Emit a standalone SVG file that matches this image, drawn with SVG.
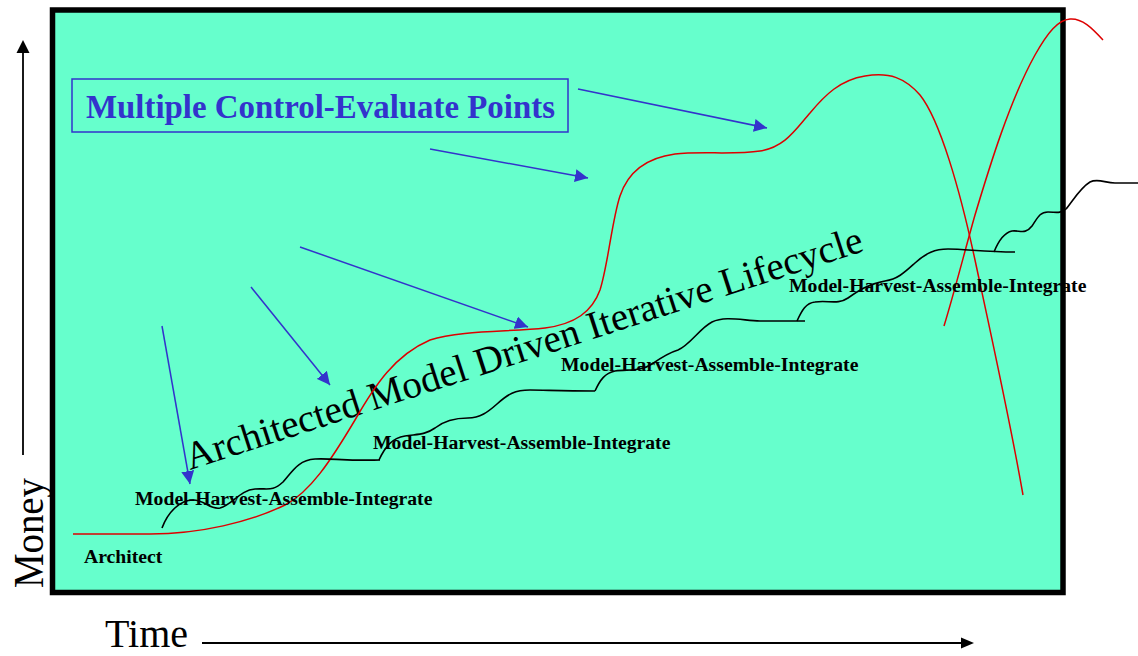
<svg xmlns="http://www.w3.org/2000/svg" width="1138" height="656" viewBox="0 0 1138 656">
  <style>
    .serif { font-family: "Liberation Serif", "Times New Roman", serif; }
    .lbl { font-family: "Liberation Serif", "Times New Roman", serif; font-weight: bold; font-size: 19.7px; fill: #000; }
    .red { fill: none; stroke: #dd0000; stroke-width: 1.5; }
    .blk { fill: none; stroke: #000; stroke-width: 1.6; }
    .blue { fill: none; stroke: #3333cc; stroke-width: 1.5; }
  </style>
  <defs>
    <marker id="bh" viewBox="0 0 12 12" refX="12" refY="6" markerWidth="13" markerHeight="13" markerUnits="userSpaceOnUse" orient="auto">
      <path d="M0,0 L12,6 L0,12 z" fill="#3333cc"/>
    </marker>
  </defs>
  <rect width="1138" height="656" fill="#ffffff"/>

  <g id="frame">
    <rect x="52.5" y="10" width="1010.5" height="582.5" fill="#66ffcc" stroke="#000" stroke-width="5.5"/>
  </g>

  <g id="money-axis">
    <line x1="23" y1="52" x2="23" y2="455" stroke="#000" stroke-width="1.8"/>
    <path d="M23,40 L16.5,53 L29.5,53 z" fill="#000"/>
    <text class="serif" transform="translate(43,588) rotate(-90)" font-size="42" textLength="110" lengthAdjust="spacingAndGlyphs">Money</text>
  </g>

  <g id="time-axis">
    <text class="serif" x="105" y="647" font-size="40">Time</text>
    <line x1="202" y1="643" x2="963" y2="643" stroke="#000" stroke-width="2"/>
    <path d="M974,643 L961,637.5 L961,648.5 z" fill="#000"/>
  </g>

  <g id="title-box">
    <rect x="72" y="79" width="496" height="53" fill="none" stroke="#3333cc" stroke-width="1.5"/>
    <text class="serif" x="86" y="118" font-size="33" font-weight="bold" fill="#3333cc" textLength="469" lengthAdjust="spacingAndGlyphs">Multiple Control-Evaluate Points</text>
  </g>

  <g id="lifecycle-title">
    <text class="serif" transform="translate(190,470) rotate(-18)" font-size="39" fill="#000" textLength="710" lengthAdjust="spacingAndGlyphs">Architected Model Driven Iterative Lifecycle</text>
  </g>

  <g id="money-curve">
    <path class="red" d="M73,534 L150,534 C200,534 250,522 285,505 C310,492 330,462 355,420 C375,385 395,355 430,340 C460,330 510,332 545,328 C575,324 592,312 600,290 C608,265 612,220 620,196 C628,172 645,158 675,154 C700,151 735,155 760,151 C785,147 795,130 810,113 C825,95 840,80 865,76 C890,72 905,78 920,95 C940,120 960,190 975,260 C990,330 1010,420 1023,495"/>
    <path class="red" d="M944,326 C955,290 965,250 975,215 C990,165 1010,100 1035,55 C1048,32 1058,20 1070,19 C1082,18 1092,28 1103,40"/>
  </g>

  <g id="step-1">
    <path class="blk" d="M162,528 C168,512 180,500 193,500 C205,500 210,510 220,508 C232,505 240,490 255,489 C268,488 272,492 283,482 C292,472 298,460 315,459 C330,458 345,461 380,460"/>
    <text class="lbl" x="135" y="505">Model-Harvest-Assemble-Integrate</text>
  </g>
  <g id="step-2">
    <path class="blk" d="M379,460 C385,447 392,438 405,436 C418,434 425,435 435,428 C445,420 455,418 468,418 C480,418 488,412 497,404 C508,394 515,390 530,390 C545,390 560,391 595,391"/>
    <text class="lbl" x="373" y="449">Model-Harvest-Assemble-Integrate</text>
  </g>
  <g id="step-3">
    <path class="blk" d="M595,391 C600,380 605,373 615,371 C628,369 640,372 652,364 C662,357 668,353 678,350 C690,345 700,328 712,322 C725,316 740,320 760,321 L805,321"/>
    <text class="lbl" x="561" y="371">Model-Harvest-Assemble-Integrate</text>
  </g>
  <g id="step-4">
    <path class="blk" d="M797,321 C802,310 806,303 815,302 C828,300 838,305 848,298 C858,291 868,284 885,281 C898,279 905,272 915,263 C926,253 935,249 948,249 C965,249 985,252 1015,252"/>
    <text class="lbl" x="789" y="292">Model-Harvest-Assemble-Integrate</text>
  </g>
  <g id="step-5">
    <path class="blk" d="M994,252 C998,242 1003,233 1012,231 C1020,230 1025,235 1032,226 C1038,217 1040,212 1048,212 C1056,212 1060,214 1066,209 C1072,202 1080,188 1090,182 C1098,178 1105,183 1115,183 L1138,183"/>
  </g>
  <g id="architect">
    <text class="lbl" x="84" y="563">Architect</text>
  </g>

  <g id="connectors">
    <line class="blue" x1="578" y1="89" x2="767" y2="128" marker-end="url(#bh)"/>
    <line class="blue" x1="430" y1="149" x2="588" y2="178" marker-end="url(#bh)"/>
    <line class="blue" x1="300" y1="247" x2="528" y2="327" marker-end="url(#bh)"/>
    <line class="blue" x1="251" y1="287" x2="330" y2="385" marker-end="url(#bh)"/>
    <line class="blue" x1="162" y1="326" x2="190" y2="484" marker-end="url(#bh)"/>
  </g>
</svg>
